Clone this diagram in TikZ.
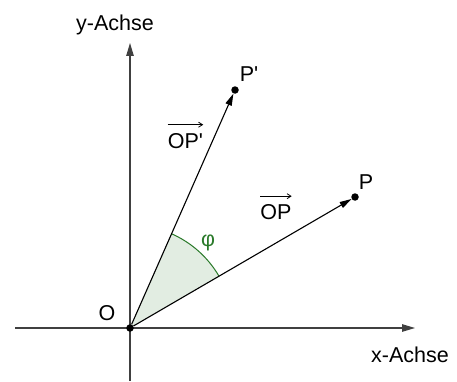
\documentclass[tikz,border=0pt]{standalone}
\usepackage{fontspec}
\setmainfont{Liberation Sans}
\usetikzlibrary{arrows.meta,positioning,calc}
\definecolor{axisgray}{HTML}{404040}
\definecolor{anglegreen}{HTML}{2A7A2A}
\definecolor{anglefill}{HTML}{E2EDE2}

\begin{document}
\begin{tikzpicture}[
  x=1pt,y=1pt,
  every node/.style={font=\fontsize{21.5}{25}\selectfont,inner sep=0pt},
  axis/.style={-{Triangle[length=13pt,width=7.5pt]},line width=1.1pt,axisgray},
  vec/.style={-{Triangle[length=12pt,width=6.5pt]},line width=1.1pt,black},
  dot/.style={circle,fill=black,minimum size=7.5pt,inner sep=0pt},
  overarr/.style={-{Straight Barb[length=4pt,width=5pt]},line width=0.8pt,black}
]
\useasboundingbox (0,0) rectangle (457,381);
% axes
\coordinate (xl) at (15,53);
\coordinate (xr) at (415,53);
\coordinate (yb) at (130,0);
\coordinate (yt) at (130,338);
\draw[axis] (xl) -- (xr);
\draw[axis] (yb) -- (yt);
\node (xlab) at (410,26) {x-Achse};
\node (ylab) at (115,356) {y-Achse};
% angle phi
\fill[anglefill] (130,53) -- ++(30.2:103pt) arc (30.2:66.3:103pt) -- cycle;
\draw[anglegreen,line width=1pt] ($(130,53)+(30.2:103pt)$) arc (30.2:66.3:103pt);
\node[text=anglegreen] (phi) at (208,138) {φ};
% points and vectors
\node[dot] (O) at (130,53) {};
\node[dot] (P) at (355,184) {};
\node[dot] (Pp) at (235,291) {};
\draw[vec] (O) -- (P);
\draw[vec] (O) -- (Pp);
\node (Olab) at (107,68) {O};
\node (Plab) at (366,199) {P};
\node (Pplab) at (249,307) {P\textquotesingle};
\node (OPlab) at (276,169) {OP};
\draw[overarr] ([yshift=8pt]OPlab.north west) -- ([yshift=8pt]OPlab.north east);
\node (OPplab) at (185.5,239.5) {OP\textquotesingle};
\draw[overarr] ([yshift=9pt]OPplab.north west) -- ([yshift=9pt]OPplab.north east);
\end{tikzpicture}
\end{document}
